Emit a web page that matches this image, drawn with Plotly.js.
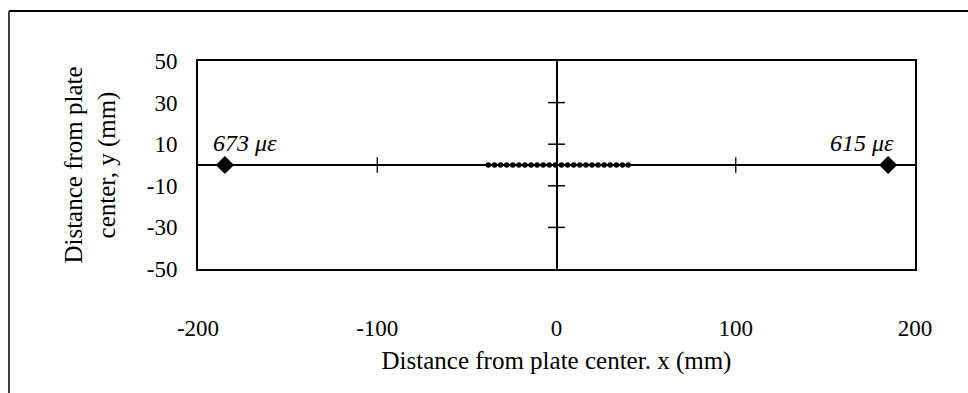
<!DOCTYPE html>
<html>
<head>
<meta charset="utf-8">
<script src="https://cdn.plot.ly/plotly-3.0.1.min.js"></script>
<style>html,body{margin:0;padding:0;background:#fff;}#chart{width:968px;height:393px;}</style>
</head>
<body>
<div id="chart"></div>
<script>
// Gauge points (mm) and strain labels
const gaugeX = [-185, 185];
const gaugeY = [0, 0];
const gaugeLabels = ['<i>673 με</i>', '<i>615 με</i>'];
// Dense gauge strip near the center (mm)
const stripX = [-38, -34.6, -31.2, -27.8, -24.4, -21, -17.6, -14.2, -10.8, -7.4, -4, -0.6,
                2.8, 6.2, 9.6, 13, 16.4, 19.8, 23.2, 26.6, 30, 33.4, 36.8, 40];
const stripY = [0, 0, 0, 0, 0, 0, 0, 0, 0, 0, 0, 0, 0, 0, 0, 0, 0, 0, 0, 0, 0, 0, 0, 0];
// Axis ticks
const xTicks = [-200, -100, 0, 100, 200];
const yTicks = [50, 30, 10, -10, -30, -50];
// Inner tick marks on the crossing axes
const xInnerTicks = [-100, 100];
const yInnerTicks = [30, 10, -10, -30];

const fam = 'Liberation Serif, Times New Roman, serif';
const tickFont = {family: fam, size: 23, color: '#000'};
const titleFont = {family: fam, size: 25, color: '#000'};

const traces = [
  {x: xInnerTicks, y: xInnerTicks.map(() => 0), mode: 'markers', type: 'scatter',
   marker: {symbol: 'line-ns', size: 11, line: {width: 1.3, color: '#000'}}, hoverinfo: 'skip', showlegend: false},
  {x: yInnerTicks.map(() => 0), y: yInnerTicks, mode: 'markers', type: 'scatter',
   marker: {symbol: 'line-ew', size: 12, line: {width: 1.5, color: '#000'}}, hoverinfo: 'skip', showlegend: false},
  {x: stripX, y: stripY, mode: 'markers', type: 'scatter',
   marker: {symbol: 'circle', size: 5.5, color: '#000'}, showlegend: false},
  {x: gaugeX, y: gaugeY, mode: 'markers', type: 'scatter',
   marker: {symbol: 'diamond', size: 14, color: '#000'}, showlegend: false}
];

const layout = {
  width: 968, height: 393,
  margin: {l: 198, r: 53, t: 61, b: 124},
  paper_bgcolor: '#fff', plot_bgcolor: '#fff',
  font: tickFont,
  showlegend: false,
  xaxis: {
    range: [-200, 200], tickvals: xTicks, ticktext: xTicks.map(String),
    showgrid: false, zeroline: true, zerolinecolor: '#000', zerolinewidth: 2,
    showline: true, linecolor: '#000', linewidth: 2, mirror: true,
    ticks: '', ticklabelstandoff: 37, tickfont: tickFont,
    title: {text: 'Distance from plate center. x (mm)', font: titleFont, standoff: 12}
  },
  yaxis: {
    range: [-50, 50], tickvals: yTicks, ticktext: yTicks.map(String),
    showgrid: false, zeroline: true, zerolinecolor: '#000', zerolinewidth: 1.5,
    showline: true, linecolor: '#000', linewidth: 2, mirror: true,
    ticks: '', ticklabelstandoff: 14, tickfont: tickFont,
    title: {text: 'Distance from plate<br>center, y (mm)', font: titleFont, standoff: 24}
  },
  annotations: [
    {x: gaugeX[0], y: gaugeY[0], xref: 'x', yref: 'y', text: gaugeLabels[0], showarrow: false,
     xanchor: 'left', yanchor: 'bottom', xshift: -14, yshift: 7,
     font: {family: fam, size: 24, color: '#000'}},
    {x: gaugeX[1], y: gaugeY[1], xref: 'x', yref: 'y', text: gaugeLabels[1], showarrow: false,
     xanchor: 'right', yanchor: 'bottom', xshift: 8, yshift: 7,
     font: {family: fam, size: 24, color: '#000'}}
  ],
  shapes: [
    {type: 'line', xref: 'paper', yref: 'paper', x0: -0.2636, x1: 1.08, y0: 1.2404, y1: 1.2404,
     line: {color: '#000', width: 2}},
    {type: 'line', xref: 'paper', yref: 'paper', x0: -0.2636, x1: -0.2636, y0: 1.2404, y1: -0.62,
     line: {color: '#000', width: 1.5}}
  ]
};

Plotly.newPlot('chart', traces, layout, {displayModeBar: false, staticPlot: true});
</script>
</body>
</html>
